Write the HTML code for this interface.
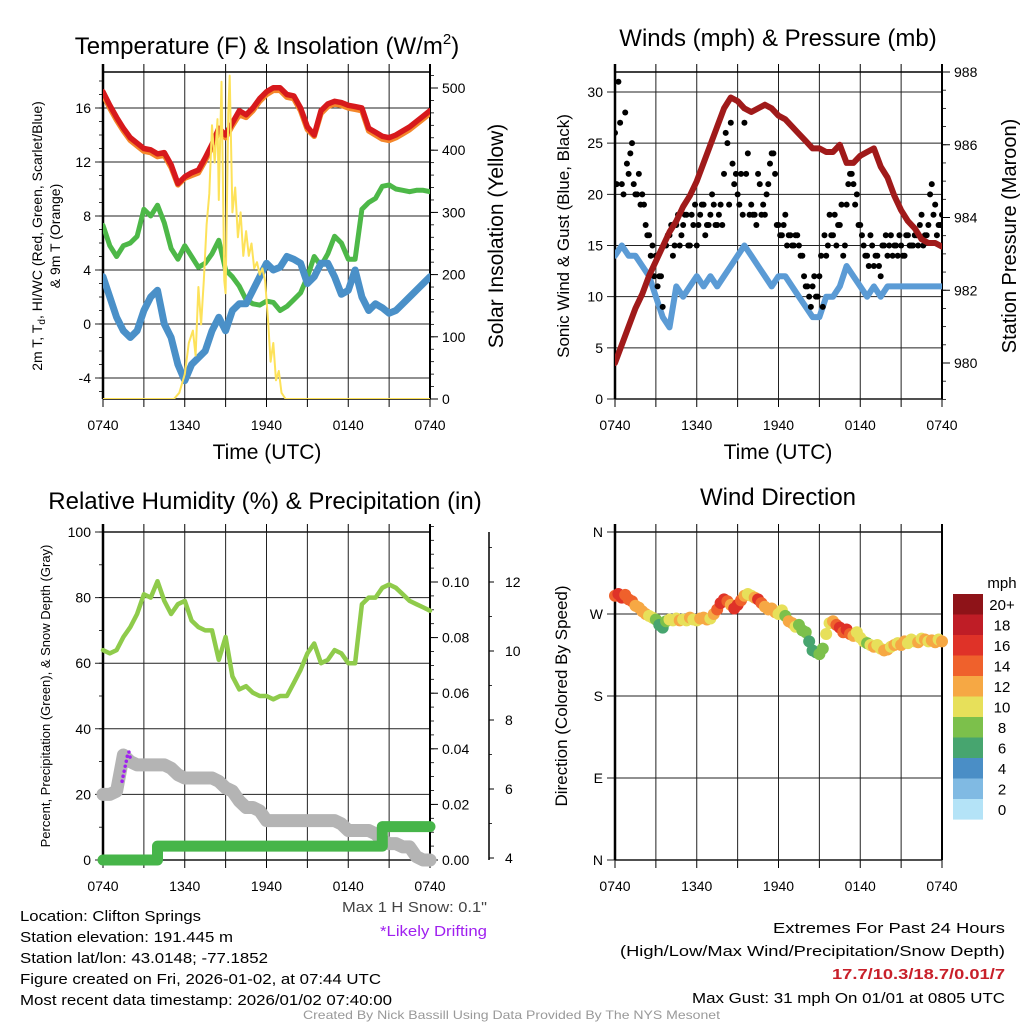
<!DOCTYPE html>
<html><head><meta charset="utf-8">
<style>
html,body{margin:0;padding:0;background:#fff;}
svg{display:block;font-family:"Liberation Sans",sans-serif;}
</style></head>
<body>
<svg id="chart" width="1024" height="1024" viewBox="0 0 1024 1024" xmlns="http://www.w3.org/2000/svg">
<rect x="0" y="0" width="1024" height="1024" fill="#fff"/>
<defs>
<clipPath id="c1"><rect x="103" y="72" width="327" height="327"/></clipPath>
<clipPath id="c2"><rect x="615" y="72" width="327" height="327"/></clipPath>
<clipPath id="c3"><rect x="96" y="525" width="341" height="342"/></clipPath>
<clipPath id="c4"><rect x="608" y="525" width="341" height="342"/></clipPath>
</defs>
<text x="267" y="54" font-size="24" text-anchor="middle">Temperature (F) &amp; Insolation (W/m<tspan font-size="15" dy="-10">2</tspan><tspan dy="10">)</tspan></text>
<text x="778" y="46" font-size="24" text-anchor="middle">Winds (mph) &amp; Pressure (mb)</text>
<text x="265" y="509" font-size="24" text-anchor="middle">Relative Humidity (%) &amp; Precipitation (in)</text>
<text x="778" y="505" font-size="24" text-anchor="middle">Wind Direction</text>
<text x="267" y="459" font-size="21" text-anchor="middle">Time (UTC)</text>
<text x="778" y="459" font-size="21" text-anchor="middle">Time (UTC)</text>
<text transform="translate(42,236) rotate(-90)" font-size="14" text-anchor="middle">2m T, T<tspan font-size="10" dy="3">d</tspan><tspan dy="-3">, HI/WC (Red, Green, Scarlet/Blue)</tspan></text>
<text transform="translate(60,236) rotate(-90)" font-size="14" text-anchor="middle">&amp; 9m T (Orange)</text>
<text transform="translate(503,236) rotate(-90)" font-size="21" text-anchor="middle">Solar Insolation (Yellow)</text>
<text transform="translate(569,236) rotate(-90)" font-size="17" text-anchor="middle">Sonic Wind &amp; Gust (Blue, Black)</text>
<text transform="translate(1016,236) rotate(-90)" font-size="20" text-anchor="middle">Station Pressure (Maroon)</text>
<text transform="translate(50,696) rotate(-90)" font-size="13" text-anchor="middle">Percent, Precipitation (Green), &amp; Snow Depth (Gray)</text>
<text transform="translate(567,696) rotate(-90)" font-size="17" text-anchor="middle">Direction (Colored By Speed)</text>
<text x="1002" y="588" font-size="15" text-anchor="middle">mph</text>
<g font-size="15">
<text x="20" y="921" textLength="181" lengthAdjust="spacingAndGlyphs">Location: Clifton Springs</text>
<text x="20" y="942" textLength="213" lengthAdjust="spacingAndGlyphs">Station elevation: 191.445 m</text>
<text x="20" y="963" textLength="248" lengthAdjust="spacingAndGlyphs">Station lat/lon: 43.0148; -77.1852</text>
<text x="20" y="984" textLength="361" lengthAdjust="spacingAndGlyphs">Figure created on Fri, 2026-01-02, at 07:44 UTC</text>
<text x="20" y="1005" textLength="372" lengthAdjust="spacingAndGlyphs">Most recent data timestamp: 2026/01/02 07:40:00</text>
<text x="342" y="912" textLength="145" lengthAdjust="spacingAndGlyphs" fill="#444">Max 1 H Snow: 0.1"</text>
<text x="380" y="936" textLength="107" lengthAdjust="spacingAndGlyphs" fill="#a020f0">*Likely Drifting</text>
<text x="773" y="933" textLength="232" lengthAdjust="spacingAndGlyphs">Extremes For Past 24 Hours</text>
<text x="620" y="956" textLength="385" lengthAdjust="spacingAndGlyphs">(High/Low/Max Wind/Precipitation/Snow Depth)</text>
<text x="832" y="979" textLength="173" lengthAdjust="spacingAndGlyphs" fill="#c8202a" font-weight="bold">17.7/10.3/18.7/0.01/7</text>
<text x="692" y="1003" textLength="313" lengthAdjust="spacingAndGlyphs">Max Gust: 31 mph On 01/01 at 0805 UTC</text>
</g>
<text x="303" y="1019" font-size="12" textLength="417" lengthAdjust="spacingAndGlyphs" fill="#999">Created By Nick Bassill Using Data Provided By The NYS Mesonet</text>
</svg>
<script>
// ---------- data (30-min series, 0740 -> 0740) ----------
const timeTicks = ["0740","1340","1940","0140","0740"];
const tempRed = [17.2,16.2,15.3,14.5,13.8,13.4,13.0,12.9,12.6,12.7,11.8,10.4,10.9,11.2,11.4,12.3,13.3,14.5,14.0,14.9,15.8,15.5,16.0,16.7,17.2,17.5,17.5,17.0,16.9,16.0,14.6,14.0,15.8,16.3,16.5,16.4,16.2,16.1,16.0,14.5,14.2,13.9,13.8,14.0,14.3,14.6,15.0,15.4,15.8];
const temp9m = [17.0,16.0,15.1,14.3,13.6,13.2,12.8,12.7,12.4,12.5,11.6,10.3,10.8,11.0,11.2,12.1,13.1,14.3,13.8,14.7,15.5,15.3,15.8,16.5,17.0,17.3,17.3,16.8,16.7,15.8,14.4,13.9,15.6,16.1,16.3,16.2,16.0,15.9,15.8,14.3,14.0,13.7,13.6,13.8,14.1,14.4,14.8,15.2,15.6];
const dewGreen = [7.3,5.8,5.0,5.8,6.0,6.5,8.5,8.0,8.8,7.5,5.6,4.8,5.8,5.0,4.2,4.5,5.2,6.2,4.0,3.5,2.8,1.8,1.5,1.4,1.7,1.6,1.0,1.3,1.8,2.3,3.5,5.0,4.3,5.2,6.5,6.0,4.8,4.8,8.5,9.0,9.3,10.2,10.3,10.0,9.9,9.8,9.9,9.9,9.8];
const windChill = [3.5,2.0,0.5,-0.5,-1.0,-0.5,1.0,2.0,2.5,0.0,-1.0,-3.0,-4.2,-3.0,-2.5,-2.0,-0.5,0.5,-0.5,1.0,1.5,1.5,2.5,3.5,4.5,4.0,4.2,5.0,4.8,4.5,3.0,3.5,4.5,4.5,3.5,2.2,2.5,4.0,2.0,1.0,1.5,1.2,0.8,1.0,1.5,2.0,2.5,3.0,3.5];
const solarHours = [0,5.2,5.6,6.0,6.3,6.6,6.8,7.0,7.2,7.4,7.6,7.8,8.0,8.2,8.4,8.5,8.7,8.9,9.0,9.2,9.3,9.5,9.7,9.9,10.1,10.3,10.5,10.7,10.9,11.1,11.3,11.5,11.7,11.9,12.1,12.3,12.5,12.7,12.9,13.1,13.4,24];
const solarValues = [0,0,10,40,90,110,70,180,120,190,280,330,440,380,450,320,510,190,170,460,520,300,340,260,300,230,270,230,250,210,220,200,210,190,130,60,90,30,45,10,0,0];
const sonicWind = [14,15,14,14,13,12,10,8,7,11,10,11,12,11,12,11,12,13,14,15,14,13,12,11,12,12,11,10,9,8,8,10,10,11,13,12,11,10,11,10,11,11,11,11,11,11,11,11,11];
const pressure = [980.0,980.5,981.0,981.5,981.9,982.4,982.8,983.2,983.6,983.9,984.3,984.6,985.0,985.5,986.0,986.5,987.0,987.3,987.2,987.0,986.9,987.0,987.1,987.0,986.8,986.7,986.5,986.3,986.1,985.9,985.9,985.8,985.8,986.0,985.5,985.5,985.7,985.8,985.9,985.4,985.1,984.6,984.2,983.9,983.7,983.4,983.3,983.3,983.2];
// 15-min gusts (on the quarter hour)
const gusts = [26,31,21,28, 22,25,20,22, 20,17,16,15, 14,12,9,15, 16,14,17,15, 17,18,15,17, 15,18,19,17, 18,19,17,19, 22,25,27,21, 20,22,27,24, 19,18,22,18, 18,21,24,22, 17,16,18,16, 15,16,15,14, 11,10,11,10, 12,9,14,18, 16,15,17,14, 19,22,21,20, 17,15,14,16, 13,14,12,15, 14,16,15,14, 15,14,16,15, 16,15,18,16, 17,21,19,17, 18];
// 15-min gusts (offset by 7.5 min)
const gustsB = [21,27,20,23, 24,21,20,19, 19,16,14,12, 11,12,15,16, 17,15,18,16, 18,15,18,19, 17,19,16,17, 20,17,18,17, 26,19,23,22, 19,18,22,18, 18,17,21,19, 20,23,24,17, 16,17,15,16, 15,16,14,12, 11,9,12,10, 14,16,15,16, 18,17,19,15, 21,22,19,17, 16,14,13,15, 14,13,15,16, 15,14,15,16, 14,16,15,15, 16,17,15,16, 20,18,16,17];
const relHum = [64,63,64,68,71,75,81,80,85,79,75,78,79,73,71,70,70,61,68,56,52,53,51,50,50,49,50,50,54,58,63,66,60,61,64,63,60,60,78,80,80,83,84,83,81,79,78,77,76];
const snowDepth = [20,20,21,32,30,29,29,29,29,29,28,26,25,25,25,25,25,24,22,21,18,16,16,15,12,12,12,12,12,12,12,12,12,12,12,11,9,9,9,9,8,6,5,5,4,4,1,0,0];
const precip = [0,0,0,0,0,0,0,0,0.005,0.005,0.005,0.005,0.005,0.005,0.005,0.005,0.005,0.005,0.005,0.005,0.005,0.005,0.005,0.005,0.005,0.005,0.005,0.005,0.005,0.005,0.005,0.005,0.005,0.005,0.005,0.005,0.005,0.005,0.005,0.005,0.005,0.012,0.012,0.012,0.012,0.012,0.012,0.012,0.012];
const driftHours = [1.4,1.5,1.6,1.7,1.8,1.9,2.0,2.1];
const driftValues = [24,26,28,30,32,33,31,30];
// 15-min wind direction (deg) and speed
const windDir = [290,292,288,291, 286,284,279,277, 273,270,268,266, 264,258,255,262, 264,263,265,263, 264,263,266,264, 263,265,266,264, 265,270,275,282, 286,284,280,276, 280,285,290,292, 290,288,286,282, 278,275,276,272, 270,274,268,262, 260,256,258,252, 250,240,230,228, 226,232,248,260, 262,258,255,250, 253,248,246,250, 244,240,238,236, 234,236,232,230, 231,234,236,238, 236,240,238,242, 240,239,243,242, 240,241,239,242, 240];
const dirSpeed = [15,17,16,14, 15,14,13,13, 12,12,11,10, 8,7,6,9, 10,11,10,12, 10,11,12,10, 11,12,13,12, 10,13,15,17, 16,14,12,16, 17,15,12,11, 10,12,16,14, 12,13,12,12, 10,11,9,12, 12,10,8,9, 8,7,6,7, 8,9,10,11, 12,15,16,14, 17,15,12,10, 11,10,9,10, 12,11,10,13, 12,11,12,10, 12,13,11,10, 11,12,10,12, 11,12,12,10, 12];
const legendLabels = ["20+","18","16","14","12","10","8","6","4","2","0"];
const legendColors = ["#8e1318","#bf1d26","#df3228","#ef612c","#f6a844","#e7e05a","#7cc04b","#47a56f","#4a8ec6","#80bae3","#b4e3f7"];
const tempTicks = [16,12,8,4,0,-4];
const solarTicks = [0,100,200,300,400,500];
const windTicks = [0,5,10,15,20,25,30];
const presTicks = [980,982,984,986,988];
const rhTicks = [0,20,40,60,80,100];
const precipTicks = [0,0.02,0.04,0.06,0.08,0.10];
const snowTicks = [4,6,8,10,12];
const dirTicks = ["N","E","S","W","N"];

// ---------- helpers ----------
const NS = 'http://www.w3.org/2000/svg';
const svg = document.getElementById('chart');
function mk(tag, attrs, name, parent) {
  const e = document.createElementNS(NS, tag);
  for (const k in attrs) e.setAttribute(k, attrs[k]);
  
  
  (parent || svg).appendChild(e);
  return e;
}
function txt(x, y, s, size, anchor, name, parent, fill) {
  const e = mk('text', {x: x, y: y, 'font-size': size, 'text-anchor': anchor, fill: fill || '#000'}, name, parent);
  e.textContent = s;
  return e;
}
const W = 327;
function xs(x0) { return t => x0 + t / 24 * W; }
function lin(v0, p0, v1, p1) { return v => p0 + (v - v0) * (p1 - p0) / (v1 - v0); }
function pathFrom(hours, vals, X, Y) {
  return vals.map((v, i) => (i ? 'L' : 'M') + X(hours[i]).toFixed(1) + ',' + Y(v).toFixed(1)).join('');
}
const h30 = relHum.map((_, i) => i * 0.5);
const h15 = gusts.map((_, i) => i * 0.25);

function frame(id, x0, yTop, yBot, leftVals, Yl, leftLab, minorL, rightVals, Yr, rightLab, minorR) {
  const g = mk('g', {}, id + '-axes');
  for (let k = 0; k <= 8; k++) {
    const x = x0 + k * W / 8;
    mk('line', {x1: x, y1: yTop, x2: x, y2: yBot, stroke: '#222', 'stroke-width': 1}, id + '-vgrid', g);
    mk('line', {x1: x, y1: yTop - 8, x2: x, y2: yTop, stroke: '#000', 'stroke-width': 1}, id + '-top-tick', g);
    mk('line', {x1: x, y1: yBot, x2: x, y2: yBot + 8, stroke: '#000', 'stroke-width': 1}, id + '-bottom-tick', g);
  }
  timeTicks.forEach((s, i) => txt(x0 + i * W / 4, yBot + 31, s, 14, 'middle', id + '-x-tick-label', g));
  mk('line', {x1: x0, y1: yTop, x2: x0 + W, y2: yTop, stroke: '#000', 'stroke-width': 1.5}, id + '-top-border', g);
  mk('line', {x1: x0, y1: yBot, x2: x0 + W, y2: yBot, stroke: '#000', 'stroke-width': 1.5}, id + '-bottom-border', g);
  leftVals.forEach((v, i) => {
    const y = Yl(v);
    mk('line', {x1: x0 - 8, y1: y, x2: x0 + W, y2: y, stroke: '#222', 'stroke-width': 1}, id + '-hgrid', g);
    txt(x0 - 12, y + 5, leftLab[i], 14, 'end', id + '-y-tick-label', g);
  });
  minorL.forEach(v => mk('line', {x1: x0 - 4, y1: Yl(v), x2: x0, y2: Yl(v), stroke: '#000', 'stroke-width': 0.8}, id + '-minor-tick', g));
  if (rightVals) {
    rightVals.forEach((v, i) => {
      const y = Yr(v);
      mk('line', {x1: x0 + W, y1: y, x2: x0 + W + 8, y2: y, stroke: '#000', 'stroke-width': 1}, id + '-right-tick', g);
      txt(x0 + W + 12, y + 5, rightLab[i], 14, 'start', id + '-right-tick-label', g);
    });
    minorR.forEach(v => mk('line', {x1: x0 + W, y1: Yr(v), x2: x0 + W + 4, y2: Yr(v), stroke: '#000', 'stroke-width': 0.8}, id + '-right-minor-tick', g));
  }
  mk('line', {x1: x0, y1: yTop - 8, x2: x0, y2: yBot, stroke: '#000', 'stroke-width': 2.5}, id + '-left-axis', g);
  mk('line', {x1: x0 + W, y1: yTop - 8, x2: x0 + W, y2: yBot, stroke: '#000', 'stroke-width': 2}, id + '-right-axis', g);
}
function range(a, b, s) { const r = []; for (let v = a; v <= b + 1e-9; v += s) r.push(+v.toFixed(4)); return r; }

// ---------- panel 1: temperature ----------
const X1 = xs(103);
const Yt = lin(0, 324, 16, 108);
const Ys = lin(0, 399, 500, 88);
frame('temp', 103, 72, 399, tempTicks, Yt, tempTicks.map(String), range(-5, 18, 1), solarTicks, Ys, solarTicks.map(String), range(0, 520, 20));
const g1 = mk('g', {'clip-path': 'url(#c1)', fill: 'none', 'stroke-linejoin': 'round', 'stroke-linecap': 'round'}, 'temp-series');
mk('path', {d: pathFrom(h30, temp9m, X1, Yt), stroke: '#f4862a', 'stroke-width': 5.5}, 'line-9m-temp', g1);
mk('path', {d: pathFrom(h30, tempRed, X1, Yt), stroke: '#d7191c', 'stroke-width': 5.5}, 'line-2m-temp', g1);
mk('path', {d: pathFrom(h30, dewGreen, X1, Yt), stroke: '#4db848', 'stroke-width': 5}, 'line-dewpoint', g1);
mk('path', {d: pathFrom(h30, windChill, X1, Yt), stroke: '#4a90c8', 'stroke-width': 7}, 'line-wind-chill', g1);
mk('path', {d: pathFrom(solarHours, solarValues, X1, Ys), stroke: '#fde25a', 'stroke-width': 2}, 'line-solar', g1);

// ---------- panel 2: winds ----------
const X2 = xs(615);
const Yw = lin(0, 399, 30, 92);
const Yp = lin(980, 363, 988, 72);
frame('wind', 615, 72, 399, windTicks, Yw, windTicks.map(String), [], presTicks, Yp, presTicks.map(String), range(979, 988, 0.5));
const g2 = mk('g', {'clip-path': 'url(#c2)', fill: 'none', 'stroke-linejoin': 'round', 'stroke-linecap': 'round'}, 'wind-series');
mk('path', {d: pathFrom(h30, sonicWind, X2, Yw), stroke: '#5b9bd5', 'stroke-width': 6}, 'line-sonic-wind', g2);
gusts.forEach((v, i) => {
  mk('circle', {cx: X2(h15[i]), cy: Yw(v), r: 3, fill: '#000'}, 'gust-point', g2);
});
gustsB.forEach((v, i) => {
  mk('circle', {cx: X2(h15[i] + 0.125), cy: Yw(v), r: 3, fill: '#000'}, 'gust-point', g2);
});
mk('path', {d: pathFrom(h30, pressure, X2, Yp), stroke: '#a01a1a', 'stroke-width': 6}, 'line-pressure', g2);

// ---------- panel 3: humidity ----------
const X3 = xs(103);
const Yh = lin(0, 860, 100, 532);
const Ypr = lin(0, 860, 0.1, 582);
const Ysn = lin(4, 858, 12, 582);
frame('rh', 103, 532, 860, rhTicks, Yh, rhTicks.map(String), range(0, 100, 10), precipTicks, Ypr, precipTicks.map(v => v.toFixed(2)), range(0, 0.12, 0.005));
const g3s = mk('g', {}, 'snow-axis');
mk('line', {x1: 489, y1: 532, x2: 489, y2: 860, stroke: '#000', 'stroke-width': 1.5}, 'snow-axis-line', g3s);
snowTicks.forEach(v => {
  mk('line', {x1: 489, y1: Ysn(v), x2: 494, y2: Ysn(v), stroke: '#000', 'stroke-width': 1}, 'snow-tick', g3s);
  txt(505, Ysn(v) + 5, String(v), 14, 'start', 'snow-tick-label', g3s);
});
range(4, 13, 1).forEach(v => mk('line', {x1: 489, y1: Ysn(v), x2: 492, y2: Ysn(v), stroke: '#000', 'stroke-width': 0.8}, 'snow-minor-tick', g3s));
const g3 = mk('g', {'clip-path': 'url(#c3)', fill: 'none', 'stroke-linejoin': 'round', 'stroke-linecap': 'round'}, 'rh-series');
mk('path', {d: pathFrom(h30, relHum, X3, Yh), stroke: '#8fcb4b', 'stroke-width': 4.5}, 'line-humidity', g3);
mk('path', {d: pathFrom(h30, snowDepth, X3, Yh), stroke: '#b4b4b4', 'stroke-width': 13}, 'line-snow-depth', g3);
let pd = '';
precip.forEach((v, i) => {
  pd += (i ? 'L' + X3(h30[i]).toFixed(1) + ',' + Ypr(precip[i - 1]).toFixed(1) + 'L' : 'M') + X3(h30[i]).toFixed(1) + ',' + Ypr(v).toFixed(1);
});
mk('path', {d: pd, stroke: '#46b549', 'stroke-width': 11}, 'line-precip', g3);
mk('path', {d: pathFrom(driftHours, driftValues, X3, Yh), stroke: '#a020f0', 'stroke-width': 3.5, 'stroke-dasharray': '0.1 5'}, 'line-drifting', g3);

// ---------- panel 4: direction ----------
const X4 = xs(615);
const Yd = lin(0, 860, 360, 532);
frame('dir', 615, 532, 860, [0, 90, 180, 270, 360], Yd, dirTicks, [], null);
function speedColor(s) {
  const idx = Math.min(10, Math.floor(s / 2));
  return legendColors[10 - idx];
}
const g4 = mk('g', {'clip-path': 'url(#c4)'}, 'dir-series');
windDir.forEach((v, i) => {
  mk('circle', {cx: X4(h15[i]), cy: Yd(v), r: 6, fill: speedColor(dirSpeed[i])}, 'dir-point', g4);
});
const gl = mk('g', {}, 'speed-legend');
legendLabels.forEach((s, i) => {
  mk('rect', {x: 953, y: 594 + i * 20.5, width: 30, height: 20.6, fill: legendColors[i]}, 'legend-box', gl);
  txt(1002, 594 + i * 20.5 + 16, s, 15, 'middle', 'legend-label', gl);
});
</script>
</body></html>
